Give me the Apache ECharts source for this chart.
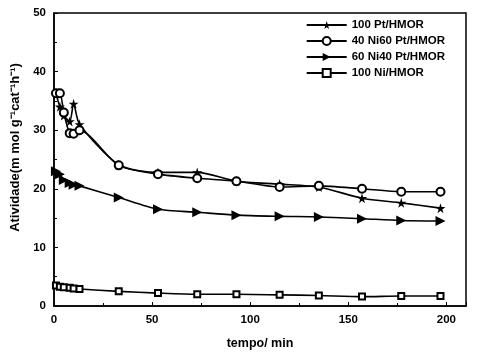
<!DOCTYPE html>
<html><head><meta charset="utf-8">
<script src="https://cdn.jsdelivr.net/npm/echarts@6/dist/echarts.min.js"></script>
<style>html,body{margin:0;padding:0;background:#fff}#c{width:480px;height:360px}</style>
</head><body><div id="c"></div>
<script>
const times = [1, 3, 5, 8, 10, 13, 33, 53, 73, 93, 115, 135, 157, 177, 197];
const pt100 = [36.2, 34, 32.5, 31.5, 34.5, 31, 24.1, 22.8, 22.8, 21.3, 20.8, 20.3, 18.4, 17.6, 16.7];
const ni40pt60 = [36.3, 36.3, 33, 29.5, 29.4, 30, 24, 22.5, 21.8, 21.3, 20.3, 20.5, 20, 19.5, 19.5];
const ni60pt40 = [23, 22.5, 21.5, 21, 20.7, 20.5, 18.5, 16.5, 16, 15.5, 15.3, 15.2, 14.9, 14.6, 14.5];
const ni100 = [3.5, 3.3, 3.2, 3.1, 3.0, 2.9, 2.5, 2.2, 2.0, 2.0, 1.9, 1.8, 1.6, 1.7, 1.7];
const seriesNames = ['100 Pt/HMOR', '40 Ni60 Pt/HMOR', '60 Ni40 Pt/HMOR', '100 Ni/HMOR'];
const xTicks = [0, 50, 100, 150, 200];
const yTicks = [0, 10, 20, 30, 40, 50];

const star = 'path://M50,0 L61,35 L98,35 L68,57 L79,91 L50,70 L21,91 L32,57 L2,35 L39,35 Z';
const font = '"Liberation Sans", Arial, sans-serif';
function pairs(v){ return times.map((t,i)=>[t, v[i]]); }
const base = {type:'line', smooth:0.25, clip:false, lineStyle:{color:'#000', width:1.6}, z:3};
const chart = echarts.init(document.getElementById('c'), null, {renderer:'canvas'});
chart.setOption({
  animation:false,
  backgroundColor:'#fff',
  grid:{left:54, right:14, top:13, bottom:54, show:true, borderColor:'#000', borderWidth:1.5},
  legend:{
    right:30, top:14, orient:'vertical', itemGap:4, itemWidth:40, itemHeight:10,
    textStyle:{fontFamily:font, fontWeight:'bold', fontSize:11.5, color:'#000'},
    data: seriesNames
  },
  xAxis:{type:'value', min:0, max:210, interval:50,
    name:'tempo/ min', nameLocation:'middle', nameGap:31,
    nameTextStyle:{fontFamily:font, fontWeight:'bold', fontSize:12.5, color:'#000'},
    axisLine:{lineStyle:{color:'#000', width:1.5}},
    axisTick:{inside:true, length:4, lineStyle:{color:'#000'}},
    minorTick:{show:true, splitNumber:2, length:3, lineStyle:{color:'#000'}},
    splitLine:{show:false},
    axisLabel:{fontFamily:font, fontWeight:'bold', fontSize:11.5, color:'#000', margin:8,
      formatter:v=> xTicks.includes(v) ? String(v) : ''}
  },
  yAxis:{type:'value', min:0, max:50, interval:10,
    name:'Atividade(m mol g\u207B\u00B9cat\u207B\u00B9h\u207B\u00B9)', nameLocation:'middle', nameGap:30,
    nameTextStyle:{fontFamily:font, fontWeight:'bold', fontSize:13, color:'#000', padding:[0,0,0,24]},
    axisLine:{lineStyle:{color:'#000', width:1.5}},
    axisTick:{inside:true, length:4, lineStyle:{color:'#000'}},
    minorTick:{show:true, splitNumber:2, length:3, lineStyle:{color:'#000'}},
    splitLine:{show:false},
    axisLabel:{fontFamily:font, fontWeight:'bold', fontSize:11.5, color:'#000', margin:8,
      formatter:v=> yTicks.includes(v) ? String(v) : ''}
  },
  series:[
    Object.assign({}, base, {name:seriesNames[0], data:pairs(pt100), symbol:star, symbolSize:10, itemStyle:{color:'#000'}}),
    Object.assign({}, base, {name:seriesNames[1], data:pairs(ni40pt60), symbol:'emptyCircle', symbolSize:8, itemStyle:{color:'#000', borderWidth:1.3}}),
    Object.assign({}, base, {name:seriesNames[2], data:pairs(ni60pt40), symbol:'triangle', symbolRotate:-90, symbolSize:10, itemStyle:{color:'#000'}}),
    Object.assign({}, base, {name:seriesNames[3], data:pairs(ni100), symbol:'emptyRect', symbolSize:6, itemStyle:{color:'#000', borderWidth:1.2}})
  ]
});
</script></body></html>
